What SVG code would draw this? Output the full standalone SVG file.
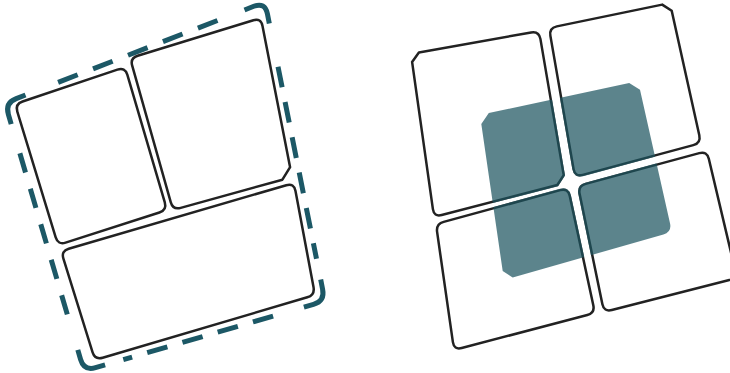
<svg xmlns="http://www.w3.org/2000/svg" width="730" height="373" viewBox="0 0 730 373">
  <style>
    .box { fill: #ffffff; stroke: #222222; stroke-width: 2.5; stroke-linejoin: round; }
    .dash { fill: none; stroke: #1c5866; stroke-width: 5; stroke-linecap: butt; stroke-linejoin: round; }
    .teal { fill: #1d5560; fill-opacity: 0.72; }
    .mk { fill: #ffffff; stroke: #ffffff; stroke-width: 2.6; }
  </style>
  <defs>
    <mask id="boxMask" maskUnits="userSpaceOnUse" x="0" y="0" width="730" height="373">
      <path class="mk" d="M418.9 52.6 L531.1 32.4 Q539 31 540.4 38.9 L563.7 175.1 L557.3 185.0 L441.7 215.0 Q434 217 432.9 209.1 L412.1 61.9 Z"/>
      <path class="mk" d="M556.8 26.4 L662.2 4.6 L671.7 10.8 L699.3 135.2 Q701 143 693.3 145.1 L582.7 174.9 Q575 177 573.6 169.1 L550.4 35.9 Q549 28 556.8 26.4 Z"/>
      <path class="mk" d="M443.7 221.9 L560.3 190.1 Q568 188 569.7 195.8 L593.3 305.2 Q595 313 587.3 315.0 L461.7 348.0 Q454 350 452.9 342.1 L437.1 231.9 Q436 224 443.7 221.9 Z"/>
      <path class="mk" d="M585.7 183.9 L699.3 153.1 Q707 151 708.8 158.8 L735.2 270.2 Q737 278 729.3 280.0 L611.8 310.0 Q604 312 602.4 304.2 L579.6 193.8 Q578 186 585.7 183.9 Z"/>
    </mask>
  </defs>
  <rect width="730" height="373" fill="#ffffff"/>

  <g id="group-left">
    <g id="frame-dashed">
      <path class="dash" d="M11.2 124.1 L8.4 114.5 Q5 103 16.2 98.7 L25.5 95.0"/>
      <path class="dash" d="M244.5 10.0 L253.8 6.3 Q265 2 267.4 13.8 L269.3 23.6"/>
      <path class="dash" d="M320.7 279.4 L322.6 289.2 Q325 301 313.5 304.3 L303.9 307.1"/>
      <path class="dash" d="M105.1 364.9 L95.5 367.7 Q84 371 80.6 359.5 L77.8 349.9"/>
      <path class="dash" stroke-dasharray="21 16.5" d="M58.1 82.4 L228.7 16.1"/>
      <path class="dash" stroke-dasharray="21 15" d="M278.0 66.7 L316.5 258.8"/>
      <path class="dash" stroke-dasharray="21 15.7" d="M273.1 316.1 L123.3 359.6"/>
      <path class="dash" stroke-dasharray="20 17" d="M67.3 314.4 L16.2 140.8"/>
    </g>
    <g id="panel-a">
      <path class="box" d="M22.6 101.5 L117.4 69.6 Q125 67 127.3 74.7 L164.8 202.3 Q167 210 159.4 212.5 L65.6 242.6 Q58 245 55.7 237.4 L17.3 111.7 Q15 104 22.6 101.5 Z"/>
    </g>
    <g id="panel-b">
      <path class="box" d="M137.7 55.7 L253.4 20.3 Q261 18 262.5 25.9 L290.1 167.2 L282.4 179.7 L180.7 207.9 Q173 210 170.8 202.3 L132.2 65.7 Q130 58 137.7 55.7 Z"/>
    </g>
    <g id="panel-c">
      <path class="box" d="M68.7 248.8 L286.3 185.2 Q294 183 295.5 190.9 L313.5 287.1 Q315 295 307.3 297.3 L102.7 357.7 Q95 360 92.6 352.4 L63.4 258.6 Q61 251 68.7 248.8 Z"/>
    </g>
  </g>

  <g id="group-right">
    <g id="tile-1">
      <path class="box" d="M418.9 52.6 L531.1 32.4 Q539 31 540.4 38.9 L563.7 175.1 L557.3 185.0 L441.7 215.0 Q434 217 432.9 209.1 L412.1 61.9 Z"/>
    </g>
    <g id="tile-2">
      <path class="box" d="M556.8 26.4 L662.2 4.6 L671.7 10.8 L699.3 135.2 Q701 143 693.3 145.1 L582.7 174.9 Q575 177 573.6 169.1 L550.4 35.9 Q549 28 556.8 26.4 Z"/>
    </g>
    <g id="tile-3">
      <path class="box" d="M443.7 221.9 L560.3 190.1 Q568 188 569.7 195.8 L593.3 305.2 Q595 313 587.3 315.0 L461.7 348.0 Q454 350 452.9 342.1 L437.1 231.9 Q436 224 443.7 221.9 Z"/>
    </g>
    <g id="tile-4">
      <path class="box" d="M585.7 183.9 L699.3 153.1 Q707 151 708.8 158.8 L735.2 270.2 Q737 278 729.3 280.0 L611.8 310.0 Q604 312 602.4 304.2 L579.6 193.8 Q578 186 585.7 183.9 Z"/>
    </g>
    <g id="highlight">
      <path class="teal" mask="url(#boxMask)" d="M488.8 113.1 L629.2 82.9 L640.0 89.8 L670.0 223.2 Q672 232 663.4 234.5 L512.7 277.5 L502.7 271.1 L481.3 123.9 Z"/>
    </g>
  </g>

  <g id="connectors"></g>
</svg>
